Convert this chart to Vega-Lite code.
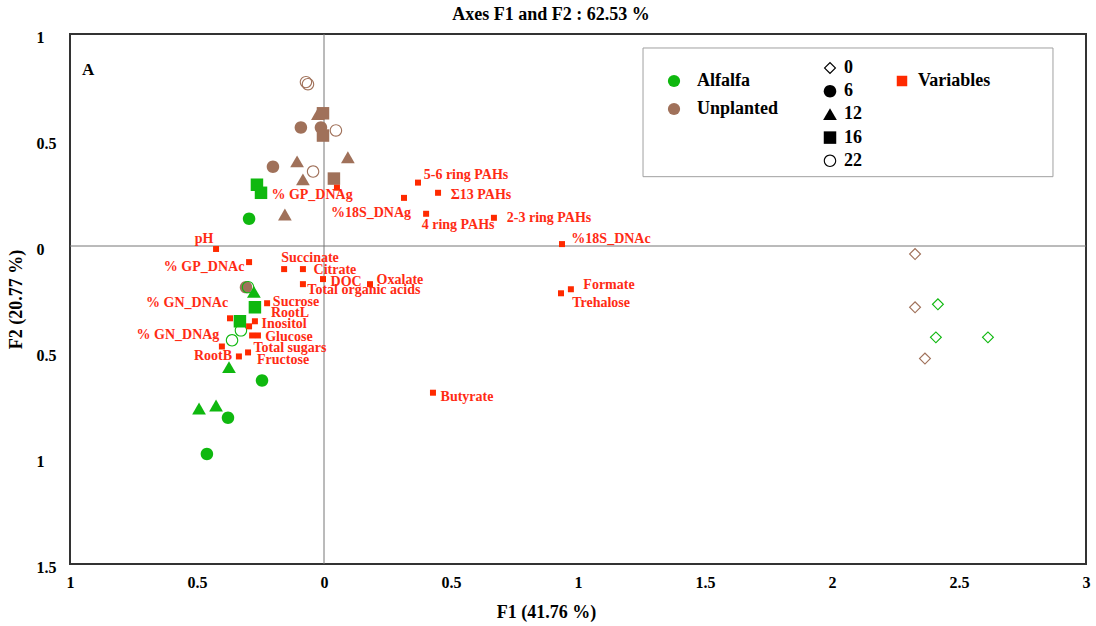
{
  "$schema": "https://vega.github.io/schema/vega-lite/v6.json",
  "autosize": {"type": "none"},
  "padding": {"left": 70, "top": 34, "right": 10, "bottom": 62},
  "width": 1016,
  "height": 530,
  "background": "white",
  "title": {
    "text": "Axes F1 and F2 : 62.53 %",
    "font": "Liberation Serif",
    "fontSize": 18,
    "fontWeight": "bold",
    "color": "black",
    "anchor": "middle",
    "dx": -27,
    "offset": 5
  },
  "config": {
    "view": {"stroke": "#333333", "strokeWidth": 2},
    "font": "Liberation Serif",
    "axis": {
      "domain": false,
      "ticks": false,
      "grid": false,
      "labelFont": "Liberation Serif",
      "labelFontSize": 16,
      "labelFontWeight": "bold",
      "labelColor": "black",
      "titleFont": "Liberation Serif",
      "titleFontSize": 18,
      "titleFontWeight": "bold",
      "titleColor": "black"
    },
    "legend": {
      "labelFont": "Liberation Serif",
      "labelFontWeight": "bold",
      "labelColor": "black",
      "labelFontSize": 18,
      "padding": 0
    }
  },
  "datasets": {
    "obs": [
      {"treatment": "Unplanted", "time": "22", "f1": -0.071, "f2": 0.773},
      {"treatment": "Unplanted", "time": "22", "f1": -0.063, "f2": 0.763},
      {"treatment": "Unplanted", "time": "22", "f1": 0.047, "f2": 0.545},
      {"treatment": "Unplanted", "time": "22", "f1": -0.043, "f2": 0.351},
      {"treatment": "Unplanted", "time": "6", "f1": -0.091, "f2": 0.559},
      {"treatment": "Unplanted", "time": "6", "f1": -0.012, "f2": 0.559},
      {"treatment": "Unplanted", "time": "6", "f1": -0.201, "f2": 0.374},
      {"treatment": "Unplanted", "time": "6", "f1": -0.307, "f2": -0.194},
      {"treatment": "Unplanted", "time": "12", "f1": -0.024, "f2": 0.621},
      {"treatment": "Unplanted", "time": "12", "f1": -0.106, "f2": 0.398},
      {"treatment": "Unplanted", "time": "12", "f1": -0.083, "f2": 0.313},
      {"treatment": "Unplanted", "time": "12", "f1": 0.094, "f2": 0.417},
      {"treatment": "Unplanted", "time": "12", "f1": -0.154, "f2": 0.147},
      {"treatment": "Unplanted", "time": "16", "f1": -0.004, "f2": 0.626},
      {"treatment": "Unplanted", "time": "16", "f1": -0.004, "f2": 0.521},
      {"treatment": "Unplanted", "time": "16", "f1": 0.039, "f2": 0.318},
      {"treatment": "Unplanted", "time": "0", "f1": 2.327, "f2": -0.038},
      {"treatment": "Unplanted", "time": "0", "f1": 2.327, "f2": -0.289},
      {"treatment": "Unplanted", "time": "0", "f1": 2.366, "f2": -0.531},
      {"treatment": "Alfalfa", "time": "0", "f1": 2.417, "f2": -0.275},
      {"treatment": "Alfalfa", "time": "0", "f1": 2.409, "f2": -0.431},
      {"treatment": "Alfalfa", "time": "0", "f1": 2.614, "f2": -0.431},
      {"treatment": "Alfalfa", "time": "16", "f1": -0.264, "f2": 0.289},
      {"treatment": "Alfalfa", "time": "16", "f1": -0.248, "f2": 0.251},
      {"treatment": "Alfalfa", "time": "16", "f1": -0.272, "f2": -0.289},
      {"treatment": "Alfalfa", "time": "16", "f1": -0.331, "f2": -0.355},
      {"treatment": "Alfalfa", "time": "6", "f1": -0.295, "f2": 0.128},
      {"treatment": "Alfalfa", "time": "6", "f1": -0.244, "f2": -0.635},
      {"treatment": "Alfalfa", "time": "6", "f1": -0.378, "f2": -0.81},
      {"treatment": "Alfalfa", "time": "6", "f1": -0.461, "f2": -0.981},
      {"treatment": "Alfalfa", "time": "12", "f1": -0.276, "f2": -0.218},
      {"treatment": "Alfalfa", "time": "12", "f1": -0.374, "f2": -0.573},
      {"treatment": "Alfalfa", "time": "12", "f1": -0.492, "f2": -0.768},
      {"treatment": "Alfalfa", "time": "12", "f1": -0.425, "f2": -0.754},
      {"treatment": "Alfalfa", "time": "22", "f1": -0.299, "f2": -0.194},
      {"treatment": "Alfalfa", "time": "22", "f1": -0.327, "f2": -0.398},
      {"treatment": "Alfalfa", "time": "22", "f1": -0.362, "f2": -0.445}
    ],
    "vars": [
      {"name": "pH", "group": "Variables", "f1": -0.425, "f2": -0.014, "lx": -0.472, "ly": 0.033},
      {"name": "% GP_DNAc", "group": "Variables", "f1": -0.295, "f2": -0.076, "lx": -0.472, "ly": -0.1},
      {"name": "% GP_DNAg", "group": "Variables", "f1": 0.051, "f2": 0.275, "lx": -0.047, "ly": 0.242},
      {"name": "Succinate", "group": "Variables", "f1": -0.157, "f2": -0.109, "lx": -0.055, "ly": -0.057},
      {"name": "Citrate", "group": "Variables", "f1": -0.083, "f2": -0.109, "lx": 0.043, "ly": -0.114},
      {"name": "DOC", "group": "Variables", "f1": -0.004, "f2": -0.156, "lx": 0.087, "ly": -0.171},
      {"name": "Oxalate", "group": "Variables", "f1": 0.181, "f2": -0.18, "lx": 0.299, "ly": -0.161},
      {"name": "Total organic acids", "group": "Variables", "f1": -0.083, "f2": -0.18, "lx": 0.157, "ly": -0.209},
      {"name": "Sucrose", "group": "Variables", "f1": -0.224, "f2": -0.27, "lx": -0.11, "ly": -0.265},
      {"name": "% GN_DNAc", "group": "Variables", "f1": -0.37, "f2": -0.341, "lx": -0.539, "ly": -0.27},
      {"name": "Inositol", "group": "Variables", "f1": -0.272, "f2": -0.355, "lx": -0.157, "ly": -0.37},
      {"name": "RootL", "group": "Variables", "f1": -0.295, "f2": -0.379, "lx": -0.134, "ly": -0.318},
      {"name": "Glucose", "group": "Variables", "f1": -0.26, "f2": -0.422, "lx": -0.138, "ly": -0.427},
      {"name": "Fructose", "group": "Variables", "f1": -0.283, "f2": -0.422, "lx": -0.161, "ly": -0.536},
      {"name": "% GN_DNAg", "group": "Variables", "f1": -0.402, "f2": -0.474, "lx": -0.575, "ly": -0.422},
      {"name": "Total sugars", "group": "Variables", "f1": -0.299, "f2": -0.502, "lx": -0.134, "ly": -0.479},
      {"name": "RootB", "group": "Variables", "f1": -0.335, "f2": -0.521, "lx": -0.437, "ly": -0.521},
      {"name": "5-6 ring PAHs", "group": "Variables", "f1": 0.37, "f2": 0.299, "lx": 0.559, "ly": 0.336},
      {"name": "%18S_DNAg", "group": "Variables", "f1": 0.315, "f2": 0.227, "lx": 0.185, "ly": 0.156},
      {"name": "Σ13 PAHs", "group": "Variables", "f1": 0.449, "f2": 0.251, "lx": 0.618, "ly": 0.242},
      {"name": "4 ring PAHs", "group": "Variables", "f1": 0.402, "f2": 0.152, "lx": 0.528, "ly": 0.1},
      {"name": "2-3 ring PAHs", "group": "Variables", "f1": 0.669, "f2": 0.133, "lx": 0.886, "ly": 0.133},
      {"name": "%18S_DNAc", "group": "Variables", "f1": 0.937, "f2": 0.009, "lx": 1.13, "ly": 0.033},
      {"name": "Formate", "group": "Variables", "f1": 0.972, "f2": -0.204, "lx": 1.122, "ly": -0.185},
      {"name": "Trehalose", "group": "Variables", "f1": 0.933, "f2": -0.223, "lx": 1.091, "ly": -0.27},
      {"name": "Butyrate", "group": "Variables", "f1": 0.429, "f2": -0.692, "lx": 0.563, "ly": -0.711}
    ]
  },
  "layer": [
    {
      "data": {"values": [{}]},
      "mark": {"type": "rect", "fill": null, "fillOpacity": 0, "stroke": "#a0a0a0", "strokeWidth": 1},
      "encoding": {
        "x": {"datum": 1.256, "type": "quantitative", "scale": {"domain": [-1, 3], "nice": false, "zero": false}},
        "x2": {"datum": 2.87},
        "y": {"datum": 0.934, "type": "quantitative", "scale": {"domain": [-1.5, 1], "nice": false, "zero": false}},
        "y2": {"datum": 0.327}
      }
    },
    {
      "data": {"values": [{}]},
      "mark": {"type": "rule", "color": "#777777", "strokeWidth": 1},
      "encoding": {"x": {"datum": 0, "type": "quantitative"}}
    },
    {
      "data": {"values": [{}]},
      "mark": {"type": "rule", "color": "#777777", "strokeWidth": 1},
      "encoding": {"y": {"datum": 0, "type": "quantitative"}}
    },
    {
      "data": {"name": "obs"},
      "mark": {"type": "point", "filled": true, "opacity": 1, "size": 156, "strokeWidth": 0},
      "encoding": {
        "x": {"field": "f1", "type": "quantitative", "title": "F1 (41.76 %)",
          "axis": {"values": [-1, -0.5, 0, 0.5, 1, 1.5, 2, 2.5, 3], "labelExpr": "format(abs(datum.value), '')", "labelPadding": 10, "labelFlush": false, "titleX": 476, "titleY": 48, "titleBaseline": "middle", "titleAnchor": "start", "titleAlign": "center"}},
        "y": {"field": "f2", "type": "quantitative", "title": "F2 (20.77 %)",
          "axis": {"values": [-1.5, -1, -0.5, 0, 0.5, 1], "labelExpr": "format(abs(datum.value), '')", "labelAlign": "left", "labelPadding": 34, "labelBaseline": "middle", "labelOffset": 3, "labelFlush": false, "titleX": -54, "titleBaseline": "middle"}},
        "color": {"field": "treatment", "type": "nominal",
          "scale": {"domain": ["Alfalfa", "Unplanted"], "range": ["#0fb80f", "#a0715a"]},
          "legend": {"title": null, "orient": "none", "legendX": 595, "legendY": 38, "symbolType": "circle", "symbolSize": 150, "labelOffset": 14, "rowPadding": 10}},
        "shape": {"field": "time", "type": "nominal",
          "scale": {"domain": ["0", "6", "12", "16", "22"], "range": [
            "M0,-1L1,0L0,1L-1,0ZM0,-0.74L-0.74,0L0,0.74L0.74,0Z",
            "M1,0A1,1 0 1,1 -1,0A1,1 0 1,1 1,0Z",
            "M0,-1L1.1,0.9L-1.1,0.9Z",
            "M-1,-1L1,-1L1,1L-1,1Z",
            "M1,0A1,1 0 1,1 -1,0A1,1 0 1,1 1,0ZM0.82,0A0.82,0.82 0 1,0 -0.82,0A0.82,0.82 0 1,0 0.82,0Z"
          ]},
          "legend": {"title": null, "orient": "none", "legendX": 751, "legendY": 25, "symbolSize": 156, "labelOffset": 5, "rowPadding": 5.2, "symbolFillColor": "black", "symbolStrokeWidth": 0}}
      }
    },
    {
      "data": {"name": "vars"},
      "mark": {"type": "point", "shape": "square", "filled": true, "opacity": 1, "size": 36},
      "encoding": {
        "x": {"field": "f1", "type": "quantitative"},
        "y": {"field": "f2", "type": "quantitative"},
        "fill": {"field": "group", "type": "nominal",
          "scale": {"domain": ["Variables"], "range": ["#ff2a00"]},
          "legend": {"title": null, "orient": "none", "legendX": 823, "legendY": 38, "symbolType": "square", "symbolSize": 110, "labelOffset": 7}}
      }
    },
    {
      "data": {"name": "vars"},
      "mark": {"type": "text", "font": "Liberation Serif", "fontWeight": "bold", "fontSize": 14, "color": "#ff2b14", "align": "center", "baseline": "middle"},
      "encoding": {
        "x": {"field": "lx", "type": "quantitative"},
        "y": {"field": "ly", "type": "quantitative"},
        "text": {"field": "name"}
      }
    },
    {
      "data": {"values": [{}]},
      "mark": {"type": "text", "font": "Liberation Serif", "fontWeight": "bold", "fontSize": 17, "color": "black", "align": "center", "baseline": "middle", "text": "A"},
      "encoding": {
        "x": {"datum": -0.929, "type": "quantitative"},
        "y": {"datum": 0.829, "type": "quantitative"}
      }
    }
  ]
}
